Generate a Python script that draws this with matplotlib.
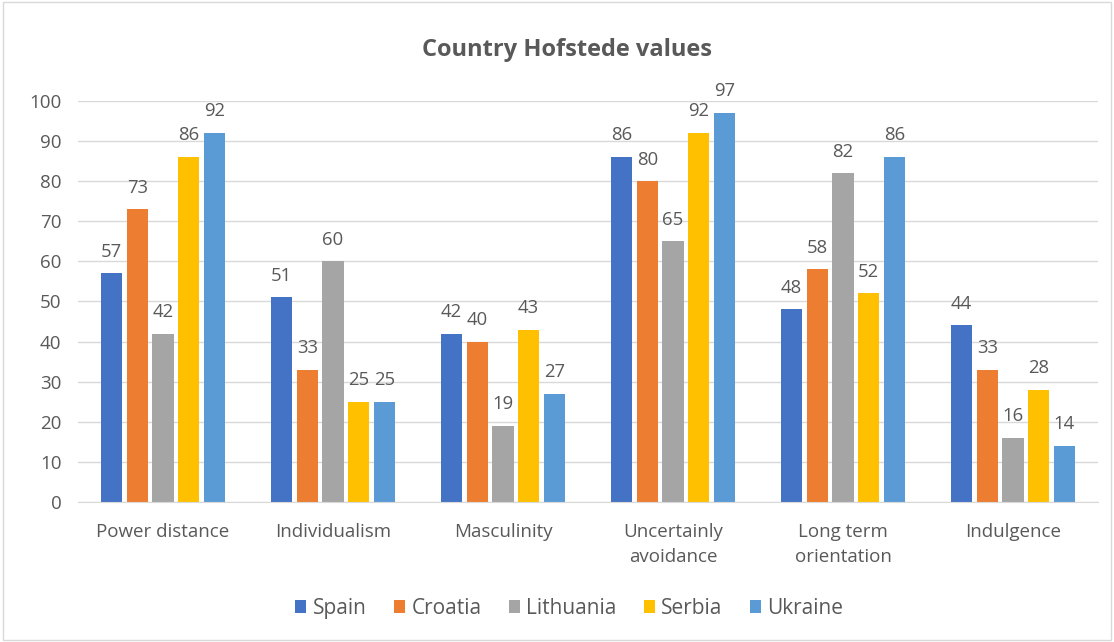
import matplotlib
matplotlib.use("Agg")
import matplotlib.pyplot as plt
import numpy as np

categories = ["Power distance", "Individualism", "Masculinity",
              "Uncertainly\navoidance", "Long term\norientation", "Indulgence"]
countries = ["Spain", "Croatia", "Lithuania", "Serbia", "Ukraine"]
spain = [57, 51, 42, 86, 48, 44]
croatia = [73, 33, 40, 80, 58, 33]
lithuania = [42, 60, 19, 65, 82, 16]
serbia = [86, 25, 43, 92, 52, 28]
ukraine = [92, 25, 27, 97, 86, 14]
series = [spain, croatia, lithuania, serbia, ukraine]
colors = ["#4472C4", "#ED7D31", "#A5A5A5", "#FFC000", "#5B9BD5"]
yticks = list(range(0, 101, 10))

plt.rcParams['font.family'] = ['Open Sans', 'DejaVu Sans']
txt = "#595959"

fig = plt.figure(figsize=(11.14, 6.42), dpi=100)
ax = fig.add_axes([0.070, 0.218, 0.9156, 0.625])

x = np.arange(len(categories))
step = 0.151
width = 0.125
for i, (vals, c, name) in enumerate(zip(series, colors, countries)):
    pos = x + (i - 2) * step
    ax.bar(pos, vals, width=width, color=c, label=name, zorder=3)
    for xp, v in zip(pos, vals):
        ax.annotate(str(v), (xp, v), xytext=(0, 9), textcoords="offset points",
                    ha="center", va="bottom", fontsize=13.3, color=txt)

ax.set_xlim(-0.5, len(categories) - 0.5)
ax.set_ylim(0, 100)
ax.set_yticks(yticks)
ax.set_xticks(x)
ax.set_xticklabels(categories, fontsize=13.5, color=txt, linespacing=1.5)
ax.tick_params(axis='y', labelsize=13.5, labelcolor=txt, length=0, pad=12)
ax.tick_params(axis='x', length=0, pad=15)
ax.grid(axis='y', color="#D9D9D9", linewidth=1, zorder=0)
for s in ["top", "right", "left"]:
    ax.spines[s].set_visible(False)
ax.spines["bottom"].set_color("#D9D9D9")
ax.spines["bottom"].set_zorder(4)

fig.text(0.509, 0.922, "Country Hofstede values", ha="center", va="center",
         fontsize=17, fontweight="bold", color=txt)

leg = fig.legend(loc="center", bbox_to_anchor=(0.511, 0.052), ncol=5, frameon=False,
                 fontsize=15, handlelength=0.55, handleheight=0.55,
                 handletextpad=0.3, columnspacing=1.3)
for t in leg.get_texts():
    t.set_color(txt)

border = plt.Rectangle((0.003, 0.003), 0.994, 0.994, transform=fig.transFigure,
                       fill=False, edgecolor="#D9D9D9", linewidth=1)
fig.patches.append(border)

fig.savefig("out.png", dpi=100)
